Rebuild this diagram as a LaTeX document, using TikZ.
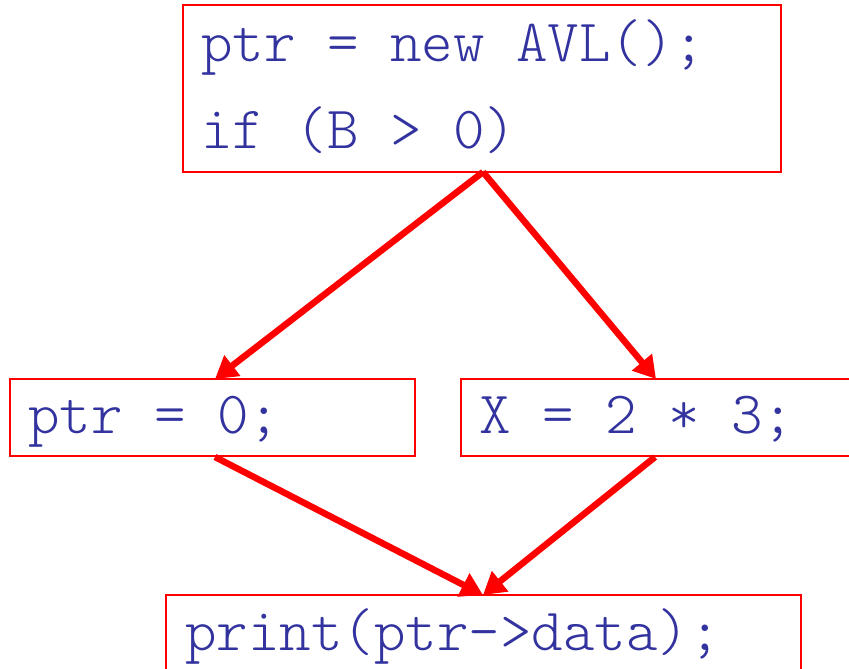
\documentclass[tikz,border=0pt]{standalone}
\usepackage{fontspec}
\newfontfamily\codefont{Latin Modern Mono Light}
\usetikzlibrary{arrows.meta}
\definecolor{codeblue}{RGB}{51,51,160}
\definecolor{boxred}{RGB}{255,0,0}
\tikzset{
  codebox/.style={draw=boxred, line width=1.6pt},
  code/.style={anchor=base west, inner sep=0pt, text=codeblue, font=\codefont\fontsize{60}{70}\selectfont},
  flow/.style={draw=boxred, line width=6.5pt, -{Triangle[length=22pt,width=25pt]}}
}
\begin{document}
\begin{tikzpicture}[x=1pt,y=-1pt]
\useasboundingbox (0,0) rectangle (849,669);
\clip (0,0) rectangle (849,669);
% boxes
\draw[codebox] (183,5) rectangle (781,172);
\draw[codebox] (10,379) rectangle (415,456);
\draw[codebox] (461,379) rectangle (870,456);
\draw[codebox] (166,595) rectangle (801,690);
% texts
\node[code] (t1) at (201,62) {ptr = new AVL();};
\node[code] (t2) at (201,148) {if (B > 0)};
\node[code] (l) at (28,433) {ptr = 0;};
\node[code] (r) at (479,433) {X = 2 * 3;};
\node[code] (b) at (185,650) {print(ptr->data);};
% connector points
\coordinate (topout) at (483,172);
\coordinate (leftin) at (215,379);
\coordinate (rightin) at (656,379);
\coordinate (leftout) at (215,457);
\coordinate (rightout) at (655,457);
\coordinate (botin) at (483,595);
\draw[flow] (topout) -- (leftin);
\draw[flow] (topout) -- (rightin);
\draw[flow] (leftout) -- (botin);
\draw[flow] (rightout) -- (botin);
\end{tikzpicture}
\end{document}
